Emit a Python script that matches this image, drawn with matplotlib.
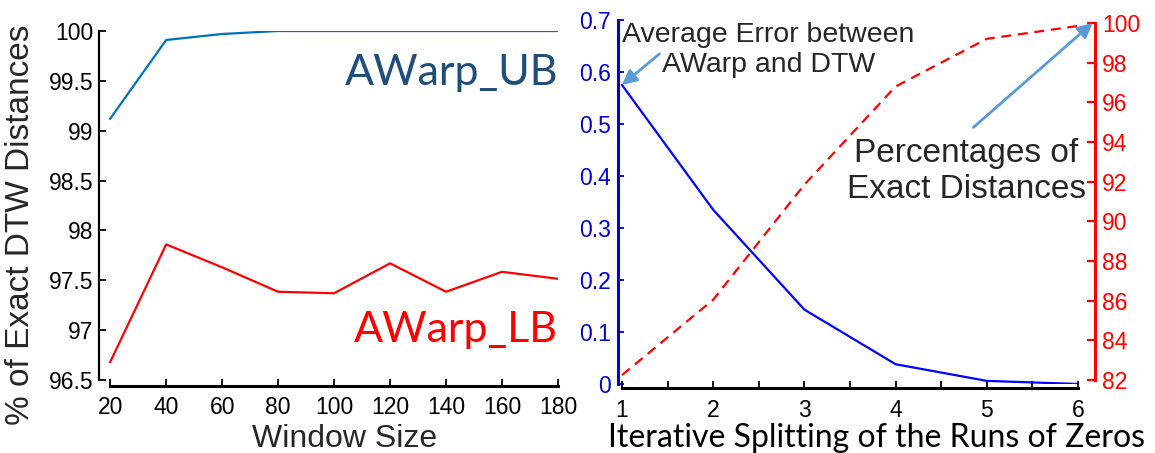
import matplotlib
matplotlib.use("Agg")
import matplotlib.pyplot as plt
import numpy as np

# left panel: % of exact DTW distances vs window size
window = [20, 40, 60, 80, 100, 120, 140, 160, 180]
awarp_ub = [99.12, 99.91, 99.97, 100.0, 100.0, 100.0, 100.0, 100.0, 100.0]
awarp_lb = [96.68, 97.86, 97.63, 97.385, 97.37, 97.67, 97.385, 97.585, 97.515]

# right panel: iterative splitting of the runs of zeros
splits = [1, 2, 3, 4, 5, 6]
avg_err = [0.575, 0.335, 0.143, 0.038, 0.006, 0.0]
pct_exact = [82.25, 86.05, 91.85, 96.8, 99.2, 99.85]

W, H = 1155, 453
sans = ["Liberation Sans", "DejaVu Sans"]
calib = ["Lato", "DejaVu Sans"]
plt.rcParams.update({"font.family": sans, "font.size": 16})

fig = plt.figure(figsize=(W / 100, H / 100), dpi=100)


def box(x0, x1, ytop, ybot):
    # pixel box -> figure fraction
    return [x0 / W, 1 - ybot / H, (x1 - x0) / W, (ybot - ytop) / H]


# ---------- left panel ----------
ax = fig.add_axes(box(99, 558, 31, 380))
ax.plot(window, awarp_ub, color="#0072bd", lw=1.6)
ax.plot(window, awarp_lb, color="#ff0000", lw=1.6)
ax.set_xlim(16.0, 180)
ax.set_ylim(96.5, 100)
ax.set_xticks(window)
ax.set_yticks([96.5, 97, 97.5, 98, 98.5, 99, 99.5, 100])
ax.set_yticklabels(["96.5", "97", "97.5", "98", "98.5", "99", "99.5", "100"])
for s in ["top", "right"]:
    ax.spines[s].set_visible(False)
ax.spines["left"].set_bounds(96.5, 100)
ax.spines["bottom"].set_bounds(20, 180)
ax.spines["bottom"].set_position(("outward", 4.5))
ax.spines["left"].set_linewidth(1.6)
ax.spines["bottom"].set_linewidth(2.2)
ax.tick_params(direction="in", length=5, width=1.3, labelsize=16.5, pad=4)
ax.tick_params(axis="x", pad=7)
ax.set_xlabel("Window Size", fontsize=23, color="#262626")
ax.xaxis.set_label_coords(0.536, -0.127)
ax.set_ylabel("% of Exact DTW Distances", fontsize=24, color="#262626")
ax.yaxis.set_label_coords(-0.137, 0.445)
ax.text(1.0, 0.845, "AWarp_UB", transform=ax.transAxes, ha="right", va="baseline",
        fontsize=31, color="#1f4e79", family=calib)
ax.text(1.0, 0.109, "AWarp_LB", transform=ax.transAxes, ha="right", va="baseline",
        fontsize=31, color="#ff0000", family=calib)

# ---------- right panel ----------
bx = fig.add_axes(box(618, 1095, 20, 384))
bx.plot(splits, avg_err, color="#0000ff", lw=1.6)
bx.set_xlim(0.956, 6.186)
bx.set_ylim(0, 0.7)
rx = bx.twinx()
rx.plot(splits, pct_exact, color="#ff0000", lw=1.6, ls=(0, (4.5, 3)))
rx.set_ylim(81.8, 100.15)

for a in (bx, rx):
    a.spines["top"].set_visible(False)
bx.spines["right"].set_visible(False)
rx.spines["left"].set_visible(False)
rx.spines["bottom"].set_visible(False)
bx.spines["left"].set_color("#0000cc")
bx.spines["left"].set_linewidth(2.2)
bx.spines["left"].set_bounds(0, 0.7)
rx.spines["right"].set_color("#ff0000")
rx.spines["right"].set_linewidth(2.2)
rx.spines["right"].set_bounds(82, 100)
bx.spines["bottom"].set_bounds(1, 6)
bx.spines["bottom"].set_position(("outward", 3))
bx.spines["bottom"].set_linewidth(2.2)

bx.set_xticks(splits)
bx.set_xticks(np.arange(1.5, 6, 1), minor=True)
bx.set_yticks(np.arange(0, 0.71, 0.1))
bx.set_yticklabels(["0", "0.1", "0.2", "0.3", "0.4", "0.5", "0.6", "0.7"])
rx.set_yticks(np.arange(82, 101, 2))
bx.tick_params(axis="x", which="both", direction="in", length=5, width=1.3,
               labelsize=16.5, pad=8)
bx.tick_params(axis="y", direction="in", length=4, width=1.3, labelsize=16.5,
               colors="#0000cc", pad=5)
rx.tick_params(axis="y", direction="in", length=6, width=1.6, labelsize=16.5,
               colors="#ff0000", pad=5)
bx.set_xlabel("Iterative Splitting of the Runs of Zeros", fontsize=23,
              family=calib)
bx.xaxis.set_label_coords(0.541, -0.108)

arrow = dict(arrowstyle="-|>", color="#5b9bd5", lw=2, mutation_scale=22,
             shrinkA=0, shrinkB=0)
bx.text(0.315, 0.995, "Average Error between\nAWarp and DTW", transform=bx.transAxes,
        ha="center", va="top", fontsize=20.5, color="#262626", linespacing=1.22)
bx.annotate("", xy=(splits[0], avg_err[0]), xytext=(0.087, 0.907),
            textcoords="axes fraction", arrowprops=arrow)
rx.text(0.730, 0.675, "Percentages of\nExact Distances", transform=rx.transAxes,
        ha="center", va="top", fontsize=24, color="#262626", linespacing=1.2)
rx.annotate("", xy=(6.16, 100.0), xytext=(0.745, 0.705),
            textcoords="axes fraction", arrowprops=arrow)

fig.savefig("out.png", dpi=100)
